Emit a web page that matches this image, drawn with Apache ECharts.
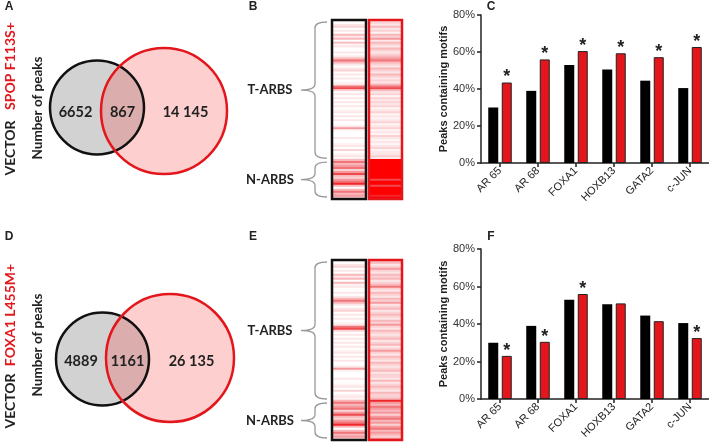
<!DOCTYPE html>
<html><head><meta charset="utf-8">
<script src="https://cdn.jsdelivr.net/npm/echarts@6/dist/echarts.min.js"></script>
<style>html,body{margin:0;padding:0;background:#fff}#c{width:709px;height:446px}</style>
</head><body><div id="c"></div>
<script>
// ---------------- data ----------------
const motifs = ['AR 65', 'AR 68', 'FOXA1', 'HOXB13', 'GATA2', 'c-JUN'];
const vectorPct = [30, 39, 53, 50.5, 44.5, 40.5];
const spopPct = [43.5, 56, 60.5, 59.3, 57.2, 62.7];
const foxa1Pct = [23, 30.5, 56, 51, 41.5, 32.5];
const spopSig = [1, 1, 1, 1, 1, 1];
const foxa1Sig = [1, 1, 1, 0, 0, 1];
const yTicks = [0, 20, 40, 60, 80];

const vennA = [6652, 867, 14145];   // vector only, overlap, SPOP F113S+ only
const vennD = [4889, 1161, 26135];  // vector only, overlap, FOXA1 L455M+ only

const tRows = 70, nRows = 20;
const heatVector = [
  2,0,2,3,0,2,0,4,2,4, 0,4,1,2,0,0,2,0,2,4, 6,4,2,0,2,3,0,2,0,2, 0,1,2,6,7,3,0,2,0,2,
  0,2,0,2,0,1,2,0,2,0, 2,0,0,2,5,1,0,0,0,2, 0,0,1,2,0,3,0,1,2,1,
  4,6,4,5,6,3,5,7,4,3, 5,6,8,4,0,4,6,4,5,3];
const heatSpop = [
  2,3,2,4,2,3,1,4,3,5, 2,4,3,2,4,3,2,3,4,5, 6,4,3,2,4,3,2,4,3,2, 3,2,4,6,7,4,2,3,1,3,
  2,3,2,3,1,2,3,1,2,1, 2,3,1,2,3,1,2,1,3,2, 1,2,1,2,3,1,2,2,3,2,
  9,9,9,9,9,9,9,9,9,9, 7,9,9,7,9,9,9,9,8,9];
const heatFoxa1 = [
  3,4,2,3,5,3,2,4,3,4, 2,3,4,6,3,2,4,3,2,4, 3,5,2,3,4,2,3,4,3,2, 4,3,5,3,2,4,3,2,3,4,
  2,3,4,2,3,5,3,2,4,3, 2,4,3,2,3,4,2,3,3,2, 4,2,3,4,3,2,4,3,3,4,
  8,5,4,6,5,4,5,3,5,6, 4,5,3,5,6,4,5,4,3,5];

// ---------------- layout ----------------
const RED = '#e3161c';
const FONT_C = 'Lato';
const FONT_A = 'Liberation Sans';
const HEAT_COLORS = ['#ffffff', '#fff3f3', '#fde6e7', '#fbd2d4', '#f8b8bb', '#f49a9e', '#f07478', '#ee4a4f', '#f2262a', '#ff0000'];
const vennLayoutA = { left: { cx: 52, cy: 67.5, r: 47 }, right: { cx: 119, cy: 71, r: 63 } };
const vennLayoutD = { left: { cx: 57.5, cy: 69, r: 46.5 }, right: { cx: 125, cy: 68, r: 64 } };
const heatGrids = [
  { left: 332, top: 20, width: 34, height: 179, rows: heatVector, stroke: '#111' },
  { left: 369, top: 20, width: 33, height: 179, rows: heatSpop, stroke: RED },
  { left: 332, top: 260, width: 34, height: 180, rows: heatVector, stroke: '#111' },
  { left: 369, top: 260, width: 33, height: 180, rows: heatFoxa1, stroke: RED }
];

const chart = echarts.init(document.getElementById('c'), null, { renderer: 'canvas' });

const grid = [], xAxis = [], yAxis = [], series = [];

function fmtCount(n) {
  const s = String(n);
  return n >= 10000 ? s.slice(0, s.length - 3) + ' ' + s.slice(-3) : s;
}

// Venn grids
function vennRender(layout, counts) {
  return function (params, api) {
    const L = layout.left, R = layout.right;
    const pL = api.coord([L.cx, L.cy]), pR = api.coord([R.cx, R.cy]);
    const rL = api.size([L.r, 0])[0], rR = api.size([R.r, 0])[0];
    const ty = (pL[1] + pR[1]) / 2 + 3;
    const xs = [(pL[0] - rL + pR[0] - rR) / 2, (pR[0] - rR + pL[0] + rL) / 2, (pL[0] + rL + pR[0] + rR) / 2];
    const ch = [
      { type: 'circle', shape: { cx: pL[0], cy: pL[1], r: rL }, style: { fill: '#d2d2d2' } },
      { type: 'circle', shape: { cx: pR[0], cy: pR[1], r: rR }, style: { fill: 'rgba(248,70,70,0.26)' } },
      { type: 'circle', shape: { cx: pL[0], cy: pL[1], r: rL }, style: { fill: 'none', stroke: '#111', lineWidth: 2.5 } },
      { type: 'circle', shape: { cx: pR[0], cy: pR[1], r: rR }, style: { fill: 'none', stroke: RED, lineWidth: 2.5 } }
    ];
    counts.forEach((c, i) => ch.push({
      type: 'text', x: xs[i], y: ty,
      style: { text: fmtCount(c), align: 'center', verticalAlign: 'middle', fontFamily: FONT_C, fontWeight: 'bold', fontSize: 14.5, fill: '#222' }
    }));
    return { type: 'group', children: ch };
  };
}
[[{ left: 45, top: 40, width: 190, height: 140 }, vennLayoutA, vennA],
 [{ left: 45, top: 290, width: 195, height: 140 }, vennLayoutD, vennD]].forEach(([g, lay, cnt]) => {
  const gi = grid.length;
  grid.push(g);
  xAxis.push({ type: 'value', gridIndex: gi, min: 0, max: g.width, show: false });
  yAxis.push({ type: 'value', gridIndex: gi, min: 0, max: g.height, inverse: true, show: false });
  series.push({ type: 'custom', xAxisIndex: gi, yAxisIndex: gi, clip: false, silent: true,
    data: [[0, 0]], renderItem: vennRender(lay, cnt) });
});

// Heat grids
const heatSeriesIdx = [];
heatGrids.forEach(h => {
  const gi = grid.length;
  grid.push({ left: h.left, top: h.top, width: h.width, height: h.height });
  xAxis.push({ type: 'category', gridIndex: gi, data: ['c'], show: false });
  yAxis.push({ type: 'category', gridIndex: gi, data: h.rows.map((_, i) => String(i)), inverse: true, show: false });
  heatSeriesIdx.push(series.length);
  series.push({ type: 'heatmap', xAxisIndex: gi, yAxisIndex: gi, silent: true,
    data: h.rows.map((v, i) => [0, i, v]) });
  series.push({ type: 'custom', xAxisIndex: gi, yAxisIndex: gi, clip: false, silent: true, z: 5,
    data: [[0, 0]],
    renderItem: (params) => {
      const c = params.coordSys;
      return { type: 'rect', shape: { x: c.x, y: c.y, width: c.width, height: c.height },
        style: { fill: 'none', stroke: h.stroke, lineWidth: 2.5 } };
    } });
});

// Bar grids
function addBars(g, mutVals, sig) {
  const gi = grid.length;
  grid.push(g);
  xAxis.push({ type: 'category', gridIndex: gi, data: motifs,
    axisLine: { show: true, lineStyle: { color: '#222', width: 1.5 } },
    axisTick: { show: true, alignWithLabel: true, length: 4, lineStyle: { color: '#222', width: 1.5 } },
    axisLabel: { rotate: 45, fontSize: 11, color: '#222', fontFamily: FONT_A, margin: 6 } });
  yAxis.push({ type: 'value', gridIndex: gi, min: yTicks[0], max: yTicks[yTicks.length - 1], interval: 20,
    name: 'Peaks containing motifs', nameLocation: 'middle', nameGap: 32,
    nameTextStyle: { fontWeight: 'bold', fontSize: 11, fontFamily: FONT_A, color: '#222' },
    axisLine: { show: true, lineStyle: { color: '#222', width: 1.5 } },
    axisTick: { show: true, length: 4, lineStyle: { color: '#222', width: 1.5 } },
    splitLine: { show: false },
    axisLabel: { formatter: '{value}%', fontSize: 11, color: '#333', fontFamily: FONT_A, margin: 6 } });
  series.push({ type: 'bar', xAxisIndex: gi, yAxisIndex: gi, data: vectorPct, barWidth: 10, barGap: '35%',
    itemStyle: { color: '#000' }, silent: true });
  series.push({ type: 'bar', xAxisIndex: gi, yAxisIndex: gi, data: mutVals, barWidth: 10, barGap: '35%',
    itemStyle: { color: RED, borderColor: '#222', borderWidth: 1 }, silent: true,
    label: { show: true, position: 'top', distance: -4, formatter: p => sig[p.dataIndex] ? '*' : '',
      fontSize: 18, fontWeight: 'bold', color: '#222', fontFamily: FONT_A } });
}
addBars({ left: 481, top: 15, width: 228, height: 148 }, spopPct, spopSig);
addBars({ left: 481, top: 249, width: 228, height: 150 }, foxa1Pct, foxa1Sig);

// Braces (custom series without coordinate system)
function bracePath(xr, y0, y1) {
  const xm = xr - 12, tip = xr - 26, ym = (y0 + y1) / 2, c = 6;
  return `M${xr},${y0} Q${xm},${y0} ${xm},${y0 + c} L${xm},${ym - c} Q${xm},${ym} ${tip},${ym} ` +
         `Q${xm},${ym} ${xm},${ym + c} L${xm},${y1 - c} Q${xm},${y1} ${xr},${y1}`;
}
const braceSegs = [];
[heatGrids[0], heatGrids[2]].forEach(h => {
  const split = h.top + h.height * tRows / (tRows + nRows);
  braceSegs.push([h.left - 5, h.top + 2, split - 1, 'T-ARBS']);
  braceSegs.push([h.left - 5, split + 3, h.top + h.height - 2, 'N-ARBS']);
});
series.push({ type: 'custom', coordinateSystem: 'none', silent: true, data: [[0]],
  renderItem: () => ({ type: 'group', children: braceSegs.flatMap(([xr, a, b, name]) => [
    { type: 'path', shape: { pathData: bracePath(xr, a, b) }, style: { fill: 'none', stroke: '#999999', lineWidth: 1.3 } },
    { type: 'text', x: 270, y: (a + b) / 2, style: { text: name, align: 'center', verticalAlign: 'middle',
      fontFamily: FONT_C, fontWeight: 'bold', fontSize: 13, fill: '#222' } }
  ]) }) });

// Text annotations
const graphic = [];
function txt(x, y, text, style, rotation) {
  graphic.push({ type: 'text', x, y, rotation: rotation || 0, silent: true,
    style: Object.assign({ text, textAlign: 'center', textVerticalAlign: 'middle',
      fill: '#222', fontFamily: FONT_C, fontWeight: 'bold', fontSize: 13 }, style || {}) });
}
[['A', 9, 7], ['B', 253, 7], ['C', 491, 7], ['D', 9, 237], ['E', 253, 237], ['F', 491, 237]].forEach(([t, x, y]) =>
  txt(x, y, t, { fontFamily: FONT_A, fontSize: 12 }));
const rot = Math.PI / 2;
txt(10, 148, 'VECTOR', { fontSize: 14 }, rot);
txt(10, 66, 'SPOP F113S+', { fontSize: 14, fill: RED }, rot);
txt(38, 108, 'Number of peaks', { fontSize: 13.5 }, rot);
txt(10, 401, 'VECTOR', { fontSize: 14 }, rot);
txt(10, 315, 'FOXA1 L455M+', { fontSize: 14, fill: RED }, rot);
txt(38, 345, 'Number of peaks', { fontSize: 13.5 }, rot);

chart.setOption({
  animation: false,
  backgroundColor: '#fff',
  grid, xAxis, yAxis, series, graphic,
  visualMap: { type: 'continuous', show: false, min: 0, max: 9, seriesIndex: heatSeriesIdx, dimension: 2,
    inRange: { color: HEAT_COLORS } }
});
</script></body></html>
